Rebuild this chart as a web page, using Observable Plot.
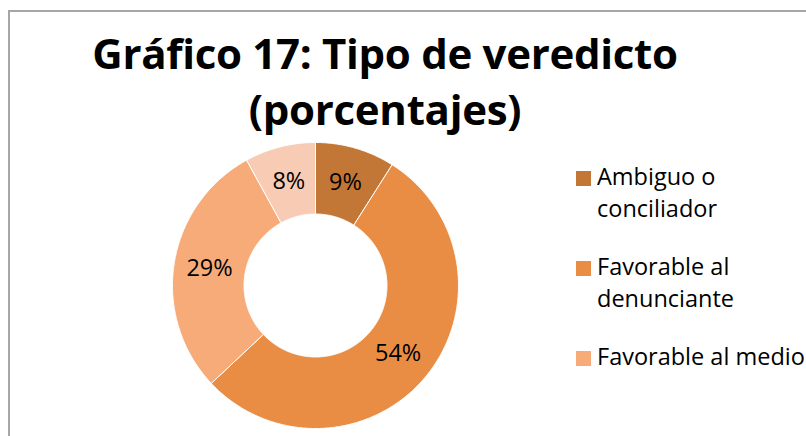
<!DOCTYPE html>
<html>
<head>
<meta charset="utf-8">
<script src="https://cdn.jsdelivr.net/npm/d3@7"></script>
<script src="https://cdn.jsdelivr.net/npm/@observablehq/plot@0.6"></script>
<style>
  html, body { margin: 0; padding: 0; background: #fff; }
  #wrap { position: relative; width: 806px; height: 436px; overflow: hidden; font-family: "Open Sans", sans-serif; }
  #frame { position: absolute; left: 8px; top: 10px; right: -10px; bottom: -10px; border-top: 2px solid #A6A6A6; border-left: 2px solid #A6A6A6; }
  #chart { position: absolute; left: 0; top: 0; }
  #title { position: absolute; left: 0; top: 25px; width: 770px; text-align: center; font-weight: 700; font-size: 42px; letter-spacing: -0.3px; line-height: 56px; color: #000; }
  #legend { position: absolute; left: 576px; top: 160px; display: flex; flex-direction: column; gap: 26px; }
  .item { display: flex; align-items: flex-start; }
  .sw { width: 15px; height: 15px; margin-top: 11px; margin-right: 6px; flex: none; }
  .lab { font-size: 23.5px; line-height: 32px; width: 220px; color: #000; }
</style>
</head>
<body>
<div id="wrap">
  <div id="frame"></div>
  <div id="chart"></div>
  <div id="title"></div>
  <div id="legend"></div>
</div>
<script>
const titleLines = ["Gráfico 17: Tipo de veredicto", "(porcentajes)"];
const categories = ["Ambiguo o conciliador", "Favorable al denunciante", "Favorable al medio", "Otro"];
const values = [9, 54, 29, 8];
const colors = ["#C37737", "#E88D43", "#F6AB79", "#F8CBB4"];
const legendCategories = ["Ambiguo o conciliador", "Favorable al denunciante", "Favorable al medio"];

const rows = categories.map((c, i) => ({cat: c, value: values[i]}));
const arcs = d3.pie().sort(null).value(d => d.value)(rows);
const innerR = 0.5;
const step = Math.PI / 360;
const pts = [];
const labels = [];
for (const a of arcs) {
  const n = Math.max(2, Math.ceil((a.endAngle - a.startAngle) / step));
  const poly = [];
  for (let k = 0; k <= n; k++) {
    const t = a.startAngle + (a.endAngle - a.startAngle) * k / n;
    poly.push({cat: a.data.cat, x: Math.sin(t), y: Math.cos(t)});
  }
  for (let k = n; k >= 0; k--) {
    const t = a.startAngle + (a.endAngle - a.startAngle) * k / n;
    poly.push({cat: a.data.cat, x: innerR * Math.sin(t), y: innerR * Math.cos(t)});
  }
  poly.push(poly[0]);
  pts.push(...poly);
  const mid = (a.startAngle + a.endAngle) / 2;
  const rm = (1 + innerR) / 2;
  labels.push({x: rm * Math.sin(mid), y: rm * Math.cos(mid), text: a.data.value + "%"});
}

const cx = 315, cy = 285, R = 143;
const plot = Plot.plot({
  width: 806,
  height: 436,
  margin: 0,
  x: {domain: [-1, 1], range: [cx - R, cx + R], axis: null},
  y: {domain: [-1, 1], range: [cy + R, cy - R], axis: null},
  color: {domain: categories, range: colors},
  style: {fontFamily: "'Open Sans', sans-serif", background: "transparent"},
  marks: [
    Plot.line(pts, {x: "x", y: "y", z: "cat", fill: "cat", stroke: "white", strokeWidth: 1, curve: "linear"}),
    Plot.text(labels, {x: "x", y: "y", text: "text", fontSize: 23.5, fill: "#000"})
  ]
});
document.getElementById("chart").appendChild(plot);

document.getElementById("title").innerHTML = titleLines.map(t => `<div>${t}</div>`).join("");
const colorOf = c => colors[categories.indexOf(c)];
document.getElementById("legend").innerHTML = legendCategories.map(c =>
  `<div class="item"><div class="sw" style="background:${colorOf(c)}"></div><div class="lab">${c}</div></div>`
).join("");
</script>
</body>
</html>
